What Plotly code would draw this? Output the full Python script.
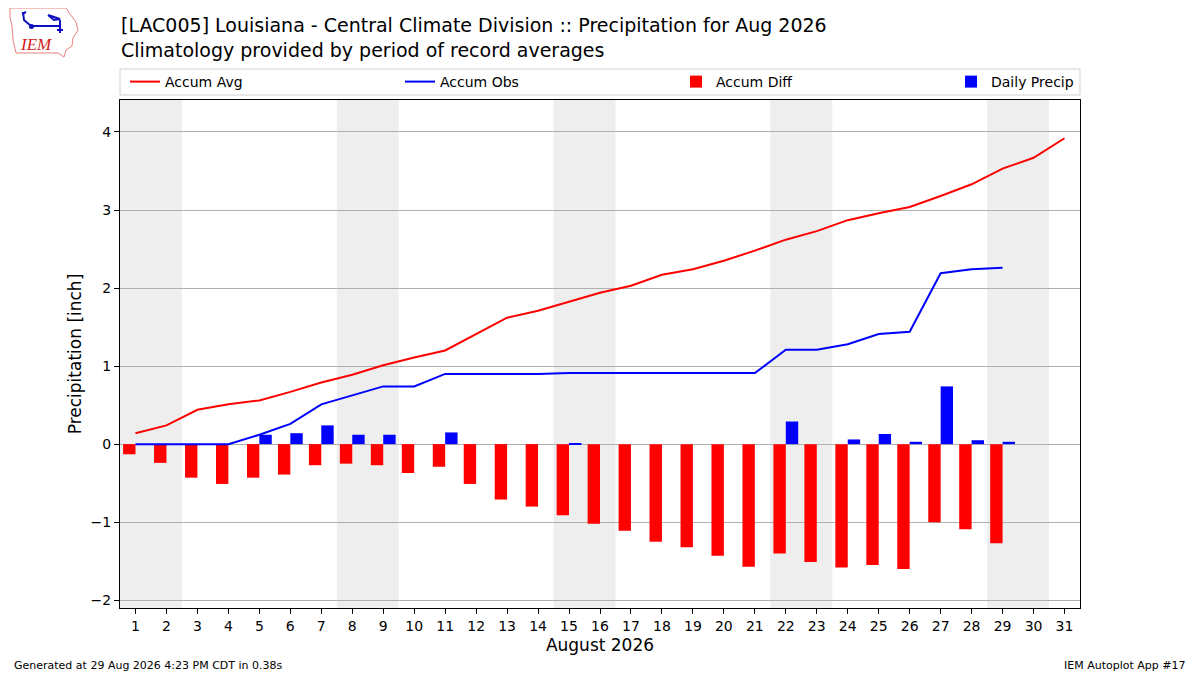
import datetime
import plotly.graph_objects as go

# August 2026, Louisiana Central Climate Division (LAC005)
days = list(range(1, 32))
accum_avg = [0.14, 0.24, 0.44, 0.51, 0.56, 0.67, 0.79, 0.89, 1.01, 1.11,
             1.20, 1.41, 1.62, 1.71, 1.83, 1.94, 2.03, 2.17, 2.24, 2.35,
             2.48, 2.62, 2.73, 2.87, 2.96, 3.04, 3.18, 3.33, 3.53, 3.67, 3.92]
obs_days = list(range(1, 30))
accum_obs = [0.0, 0.0, 0.0, 0.0, 0.12, 0.26, 0.51, 0.63, 0.74, 0.74,
             0.90, 0.90, 0.90, 0.90, 0.91, 0.91, 0.91, 0.91, 0.91, 0.91,
             0.91, 1.21, 1.21, 1.28, 1.41, 1.44, 2.19, 2.24, 2.26]
accum_diff = [-0.13, -0.24, -0.43, -0.51, -0.43, -0.39, -0.27, -0.25, -0.27, -0.37,
              -0.29, -0.51, -0.71, -0.80, -0.91, -1.02, -1.11, -1.25, -1.32, -1.43,
              -1.57, -1.40, -1.51, -1.58, -1.55, -1.60, -1.00, -1.09, -1.27]
daily_precip = [0.0, 0.0, 0.0, 0.0, 0.12, 0.14, 0.24, 0.12, 0.12, 0.0,
                0.15, 0.0, 0.0, 0.0, 0.01, 0.0, 0.0, 0.0, 0.0, 0.0,
                0.0, 0.29, 0.0, 0.06, 0.13, 0.03, 0.74, 0.05, 0.03]

FONT = "DejaVu Sans"
# the page body has an 8px margin, so work in screen pixels and shift
OFF = 8
W, H = 1200 - OFF, 675 - OFF
L, T = 120 - OFF, 100 - OFF


def px(x):
    return (x - OFF - L) / 960.0


def py(y):
    return (T + 508 - (y - OFF)) / 508.0


def pts(seq):
    return " L ".join("%.5f,%.5f" % (px(a), py(b)) for a, b in seq)


fig = go.Figure()

fig.add_trace(go.Scatter(x=days, y=accum_avg, mode="lines", name="Accum Avg",
                         line=dict(color="red", width=2), legend="legend", showlegend=True))
fig.add_trace(go.Scatter(x=obs_days, y=accum_obs, mode="lines", name="Accum Obs",
                         line=dict(color="blue", width=2), legend="legend2", showlegend=True))
fig.add_trace(go.Bar(x=obs_days, y=accum_diff, name="Accum Diff", marker_color="red",
                     marker_line_width=0, width=0.4, offset=-0.4, legend="legend3",
                     showlegend=True))
fig.add_trace(go.Bar(x=obs_days, y=daily_precip, name="Daily Precip", marker_color="blue",
                     marker_line_width=0, width=0.4, offset=0, legend="legend4",
                     showlegend=True))

# weekend shading, one band per Sat+Sun
shapes = []
for d in days:
    if datetime.date(2026, 8, d).weekday() == 5:
        shapes.append(dict(type="rect", xref="x", yref="paper", x0=d - 0.5,
                           x1=min(d + 1.5, 31.5), y0=0, y1=1, fillcolor="#eeeeee",
                           line_width=0, layer="below"))

# legend frame
shapes.append(dict(type="rect", xref="paper", yref="paper", x0=px(120), x1=px(1080),
                   y0=py(95), y1=py(69), line=dict(color="#d0d0d0", width=1)))

# rough IEM logo
logo = [(10, 8), (66, 8), (70, 14), (76, 22), (78, 30), (73, 38), (72, 46), (66, 50),
        (64, 57), (58, 53), (16, 53), (13, 40), (12, 26), (10, 18)]
shapes.append(dict(type="path", xref="paper", yref="paper", path="M " + pts(logo) + " Z",
                   line=dict(color="#e88080", width=1)))
for stroke in ([(23, 12), (24, 20), (31, 26)], [(31, 26), (60, 26)],
               [(48, 15), (60, 19), (54, 20), (48, 15)], [(60, 20), (60, 33)],
               [(57, 30), (63, 30)], [(22, 14), (26, 12)]):
    shapes.append(dict(type="path", xref="paper", yref="paper", path="M " + pts(stroke),
                       line=dict(color="#1010c0", width=2)))
shapes.append(dict(type="circle", xref="paper", yref="paper", x0=px(29), x1=px(34),
                   y0=py(29), y1=py(24), fillcolor="#1010c0", line_width=0))

leg = dict(orientation="h", yanchor="middle", xanchor="left", bgcolor="rgba(0,0,0,0)",
           font=dict(family=FONT, size=14, color="black"))

fig.update_layout(
    width=W, height=H,
    margin=dict(l=L, r=W - L - 960, t=T, b=H - T - 508),
    paper_bgcolor="white", plot_bgcolor="white",
    barmode="overlay",
    showlegend=True,
    shapes=shapes,
    legend=dict(leg, x=px(125), y=py(82)),
    legend2=dict(leg, x=px(400), y=py(82)),
    legend3=dict(leg, x=px(676), y=py(82)),
    legend4=dict(leg, x=px(951), y=py(82)),
    font=dict(family=FONT, color="black"),
    xaxis=dict(range=[0.5, 31.5], tickmode="array", tickvals=days,
               ticks="outside", ticklen=5, tickcolor="black", showgrid=False,
               showline=True, linecolor="black", mirror=True, zeroline=False,
               tickfont=dict(size=14),
               title=dict(text="August 2026", font=dict(size=17), standoff=6)),
    yaxis=dict(range=[-2.1, 4.41], tickvals=[-2, -1, 0, 1, 2, 3, 4],
               ticks="outside", ticklen=5, tickcolor="black", showgrid=True,
               gridcolor="#b0b0b0", gridwidth=1, zeroline=False,
               showline=True, linecolor="black", mirror=True,
               tickfont=dict(size=14),
               title=dict(text="Precipitation [inch]", font=dict(size=17), standoff=4)),
)

fig.add_annotation(text="[LAC005] Louisiana - Central Climate Division :: Precipitation for Aug 2026<br>"
                        "Climatology provided by period of record averages",
                   xref="paper", yref="paper", x=px(119), y=py(12), xanchor="left", yanchor="top",
                   align="left", showarrow=False, font=dict(family=FONT, size=19, color="black"))
fig.add_annotation(text="<i>IEM</i>", xref="paper", yref="paper", x=px(36), y=py(45),
                   xanchor="center", yanchor="middle", showarrow=False,
                   font=dict(family="Liberation Serif", size=17, color="#d02020"))
fig.add_annotation(text="Generated at 29 Aug 2026 4:23 PM CDT in 0.38s",
                   xref="paper", yref="paper", x=px(12), y=py(665), xanchor="left",
                   yanchor="middle", showarrow=False, font=dict(family=FONT, size=11))
fig.add_annotation(text="IEM Autoplot App #17",
                   xref="paper", yref="paper", x=px(1188), y=py(665), xanchor="right",
                   yanchor="middle", showarrow=False, font=dict(family=FONT, size=11))

fig.write_html("out.html")
